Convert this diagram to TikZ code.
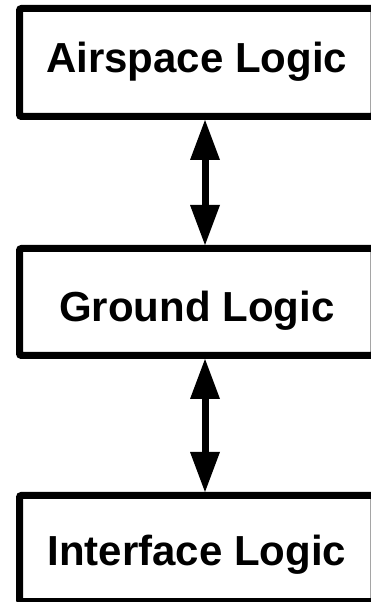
\documentclass[tikz,border=0pt]{standalone}
\usepackage{fontspec}
\setmainfont{Liberation Sans}
\usetikzlibrary{arrows.meta,positioning}

\tikzset{
    logicbox/.style={draw, line width=7pt, rounded corners=2pt, inner sep=0pt,
        minimum width=354.5pt, text height=30pt,
        font=\fontsize{42}{50}\selectfont\bfseries},
    linkarrow/.style={line width=7pt,
        {Triangle[width=30pt,length=40pt,line width=0pt]}-{Triangle[width=30pt,length=40pt,line width=0pt]}}
}

\begin{document}
\begin{tikzpicture}[x=1pt, y=1pt]
    \useasboundingbox (0,0) rectangle (371,602);

    % Airspace box
    \node[logicbox, minimum height=108pt, text depth=9pt] (airspace) at (196.75,539.5) {Airspace Logic};

    % Ground box
    \node[logicbox, minimum height=107pt, text height=40pt, text depth=0pt] (ground) at (196.75,300) {Ground Logic};

    % Interface box
    \node[logicbox, minimum height=106.3pt, text height=36pt, text depth=3pt] (interface) at (196.75,53.4) {Interface Logic};

    % links between the boxes
    \draw[linkarrow] ([xshift=8.25pt]airspace.south) -- ([xshift=8.25pt]ground.north);
    \draw[linkarrow] ([xshift=8.25pt]ground.south) -- ([xshift=8.25pt]interface.north);
\end{tikzpicture}
\end{document}
